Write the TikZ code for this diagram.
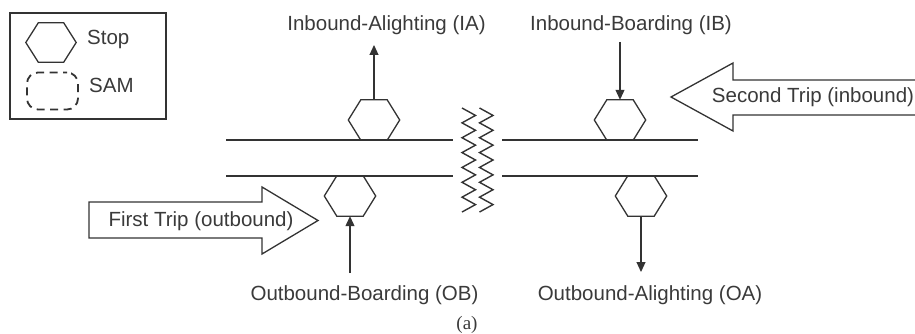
\documentclass[tikz,border=0pt]{standalone}
\usepackage{fontspec}
\setmainfont{Liberation Sans}
\newfontfamily\capserif{Liberation Serif}
\usetikzlibrary{arrows.meta}
\definecolor{ink}{HTML}{333333}
\definecolor{txt}{HTML}{3A3A3A}
\newcommand\hexdraw[1]{\draw[hexline] (#1.west) -- ([xshift=12.5]#1.north west) -- ([xshift=-12.5]#1.north east) -- (#1.east) -- ([xshift=-12.5]#1.south east) -- ([xshift=12.5]#1.south west) -- cycle;}
\tikzset{
  hexbox/.style={rectangle, draw=none, minimum width=51pt, minimum height=40pt, inner sep=0pt},
  hexline/.style={draw=ink, line width=1.3pt, line join=miter},
  road/.style={draw=ink, line width=1.4pt},
  arr/.style={draw=ink, line width=1.1pt, -{Triangle[length=10pt,width=9pt]}},
  lbl/.style={text=txt, font=\fontsize{20.5}{24}\selectfont, inner sep=0pt, anchor=base},
  blockarrow/.style={draw=ink, line width=1.3pt, line join=miter},
  zig/.style={draw=ink, line width=1.4pt, line join=miter},
}
\begin{document}
\begin{tikzpicture}[x=1pt,y=-1pt]
\useasboundingbox (0,0) rectangle (915,334);

% legend
\node[draw=ink, line width=1.4pt, minimum width=156pt, minimum height=106pt, inner sep=0pt] (legend) at (88,66) {};
\node[hexbox, minimum width=50pt, minimum height=39pt] (lhex) at (51,42.5) {};
\hexdraw{lhex}
\node[lbl, anchor=base west] (lstop) at (87,45) {Stop};
\node[draw=ink, line width=1.8pt, dash pattern=on 8pt off 5.5pt, dash phase=4pt, rounded corners=11pt, minimum width=51pt, minimum height=37pt, inner sep=0pt] (lsam) at (52.5,91) {};
\node[lbl, anchor=base west] (lsamt) at (89,93) {SAM};

% roads
\coordinate (ula) at (226,140); \coordinate (ulb) at (453,140);
\coordinate (ura) at (502,140); \coordinate (urb) at (698,140);
\coordinate (lla) at (226,176); \coordinate (llb) at (453,176);
\coordinate (lra) at (502,176); \coordinate (lrb) at (698,176);
\draw[road] (ula) -- (ulb);
\draw[road] (ura) -- (urb);
\draw[road] (lla) -- (llb);
\draw[road] (lra) -- (lrb);

% zigzags
\foreach \x in {462,479.5}{
  \draw[zig] (\x,108)
    \foreach \k in {0,...,6}{ -- ({\x+13.5},{108+14.86*\k+7.43}) -- (\x,{108+14.86*(\k+1)}) };
}

% stops
\node[hexbox] (ia) at (374,120) {};
\node[hexbox] (ib) at (620,120) {};
\node[hexbox] (ob) at (350,196) {};
\node[hexbox] (oa) at (641,196) {};
\hexdraw{ia}
\hexdraw{ib}
\hexdraw{ob}
\hexdraw{oa}

% labels
\node[lbl] (tia) at (386.5,31) {Inbound-Alighting (IA)};
\node[lbl] (tib) at (631,31) {Inbound-Boarding (IB)};
\node[lbl] (tob) at (364.5,300) {Outbound-Boarding (OB)};
\node[lbl] (toa) at (650,300) {Outbound-Alighting (OA)};

% small arrows
\coordinate (iaend) at (374,45);
\coordinate (ibstart) at (620,42);
\coordinate (obstart) at (350,273);
\coordinate (oaend) at (641,272);
\draw[arr] (ia.north) -- (iaend);
\draw[arr] (ibstart) -- (ib.north);
\draw[arr] (obstart) -- (ob.south);
\draw[arr] (oa.south) -- (oaend);

% block arrows
\draw[blockarrow] (89,202) -- (262,202) -- (262,187) -- (318,220.5) -- (262,254) -- (262,238) -- (89,238) -- cycle;
\node[lbl] (tfirst) at (201,226) {First Trip (outbound)};
\draw[blockarrow] (915,80) -- (733,80) -- (733,63) -- (671,97) -- (733,131) -- (733,115) -- (915,115);
\node[lbl] (tsecond) at (813,103) {Second Trip (inbound)};

% caption
\node[text=txt, font=\capserif\fontsize{19}{21}\selectfont, inner sep=0pt, anchor=base] (cap) at (467,329) {(a)};
\end{tikzpicture}
\end{document}
